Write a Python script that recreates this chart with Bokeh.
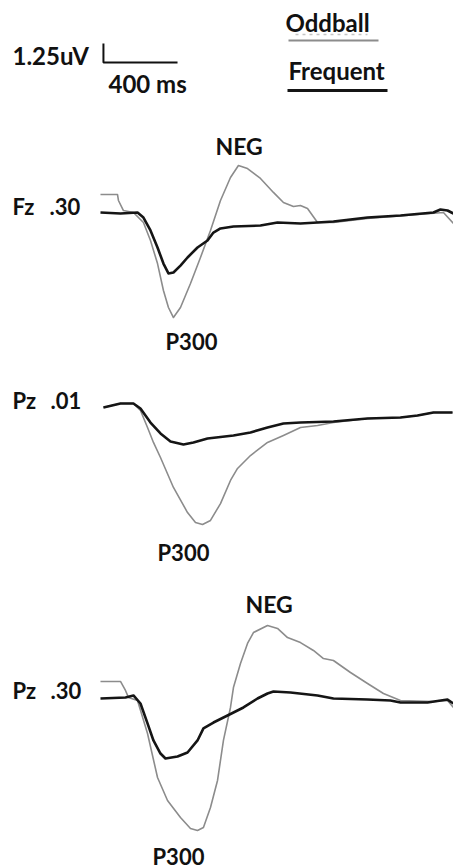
from bokeh.plotting import figure
from bokeh.models import Range1d, ColumnDataSource
from bokeh.core.properties import value
from bokeh.embed import file_html
from bokeh.resources import INLINE

# ---------------- data (time in ms, amplitude in uV, positive plotted downward) ----------------
fz_freq_t = [-100, 8, 100, 132, 170, 208, 240, 267, 294, 332, 370, 424, 478, 510, 548, 618, 764, 856, 980, 1072,
             1158, 1342, 1520, 1698, 1736, 1774, 1806]
fz_freq_v = [0, 0.07, 0, 0.33, 1.18, 2.30, 3.36, 4.01, 3.95, 3.49, 2.96, 2.30, 1.84, 1.32, 1.05, 0.92, 0.86, 0.66,
             0.72, 0.66, 0.59, 0.33, 0.20, 0, -0.20, -0.13, 0.07]

fz_odd_t = [-100, -8, -3, 24, 78, 132, 170, 208, 240, 267, 294, 332, 386, 440, 494, 548, 602, 645, 694, 764, 834,
            888, 942, 980, 1018, 1072, 1158, 1342, 1752, 1806]
fz_odd_v = [-1.18, -1.18, -0.79, -0.13, 0, 0.66, 1.84, 3.36, 5.13, 6.25, 6.91, 6.25, 4.67, 2.96, 1.18, -0.79, -2.30,
            -3.09, -2.89, -2.24, -1.32, -0.66, -0.39, -0.46, -0.26, 0.66, 0.66, 0.39, 0, 0.72]

pz01_freq_t = [-84, 8, 78, 116, 170, 224, 278, 348, 402, 478, 618, 710, 802, 888, 980, 1158, 1342, 1520, 1612, 1698, 1801]
pz01_freq_v = [0, -0.26, -0.26, 0.07, 0.99, 1.71, 2.24, 2.43, 2.30, 2.04, 1.84, 1.64, 1.32, 1.05, 0.99, 0.92, 0.72,
               0.66, 0.53, 0.33, 0.33]

pz01_odd_t = [-84, 8, 78, 116, 154, 186, 224, 294, 370, 413, 451, 494, 548, 602, 640, 710, 802, 888, 980, 1072, 1158,
              1342, 1520, 1612, 1698, 1801]
pz01_odd_v = [0, -0.26, -0.26, 0.20, 1.32, 2.30, 3.29, 5.26, 6.91, 7.57, 7.70, 7.43, 6.32, 4.80, 4.01, 3.16, 2.30,
              1.84, 1.32, 1.18, 0.99, 0.72, 0.66, 0.53, 0.33, 0.33]

pz30_freq_t = [-100, 35, 78, 116, 154, 186, 224, 251, 316, 370, 424, 456, 510, 586, 672, 748, 802, 834, 926, 1072,
               1158, 1342, 1466, 1520, 1666, 1774, 1806]
pz30_freq_v = [0, -0.07, -0.20, 0.33, 1.64, 2.76, 3.62, 3.95, 3.82, 3.55, 2.76, 1.97, 1.58, 1.12, 0.59, 0, -0.33,
               -0.46, -0.39, -0.20, 0, 0.07, 0.13, 0.26, 0.26, 0.07, 0.33]

pz30_odd_t = [-100, 8, 35, 51, 100, 154, 208, 262, 332, 386, 424, 456, 494, 532, 564, 602, 618, 656, 694, 726, 802,
              856, 910, 980, 1050, 1104, 1158, 1250, 1342, 1428, 1520, 1698, 1774, 1806]
pz30_odd_v = [-1.12, -1.12, -0.53, -0.07, 0.13, 2.30, 5.20, 6.71, 7.83, 8.55, 8.68, 8.49, 7.17, 5.39, 2.76, 0.59,
              -0.72, -2.30, -3.62, -4.34, -4.80, -4.61, -4.01, -3.68, -3.16, -2.63, -2.50, -1.71, -0.99, -0.33, 0.13,
              0.20, 0.13, 0.59]

scale_ms = 400
scale_uv = 1.25
scale_t0 = -84

legend_labels = ["Oddball", "Frequent"]
panel_sites = ["Fz", "Pz", "Pz"]
panel_vals = [".30", ".01", ".30"]

# ---------------- layout ----------------
W, H = 453, 868
PX_PER_UV = 15.2
MS_PER_PX = 5.4
T_LEFT = -118.5 * MS_PER_PX

ODD_COLOR = "#8c8c8c"
FREQ_COLOR = "#151515"
FONT = value("Lato")


def uv_range(baseline_px):
    return Range1d(start=(H - baseline_px) / PX_PER_UV, end=-baseline_px / PX_PER_UV)


p = figure(width=W, height=H, output_backend="svg", toolbar_location=None,
           x_range=Range1d(T_LEFT, T_LEFT + W * MS_PER_PX), y_range=Range1d(H, 0),
           min_border=0, min_border_left=0, min_border_right=0, min_border_top=0, min_border_bottom=0)
p.axis.visible = False
p.grid.visible = False
p.outline_line_color = None
p.background_fill_color = "white"
p.border_fill_color = "white"

p.extra_x_ranges = {"px": Range1d(0, W)}
p.extra_y_ranges = {
    "scale": uv_range(62),
    "fz": uv_range(212),
    "pz01": uv_range(407),
    "pz30": uv_range(698),
}

# waveforms
panels = [("fz", fz_odd_t, fz_odd_v, fz_freq_t, fz_freq_v),
          ("pz01", pz01_odd_t, pz01_odd_v, pz01_freq_t, pz01_freq_v),
          ("pz30", pz30_odd_t, pz30_odd_v, pz30_freq_t, pz30_freq_v)]
for name, ot, ov, ft, fv in panels:
    p.line(ot, ov, y_range_name=name, line_color=ODD_COLOR, line_width=1.6, line_join="round")
    p.line(ft, fv, y_range_name=name, line_color=FREQ_COLOR, line_width=2.6, line_join="round")

# scale bar
p.line([scale_t0, scale_t0, scale_t0 + scale_ms], [-scale_uv, 0, 0], y_range_name="scale",
       line_color="#111111", line_width=2)

# legend underlines
p.segment(x0=[295], y0=[34], x1=[367], y1=[34], x_range_name="px", line_color="#c4c4c4", line_width=1.5,
          line_dash="3 4")
p.segment(x0=[288], y0=[40], x1=[378], y1=[40], x_range_name="px", line_color=ODD_COLOR, line_width=2)
p.segment(x0=[287], y0=[90], x1=[387], y1=[90], x_range_name="px", line_color=FREQ_COLOR, line_width=3)

# texts (pixel positions, vertical centre of capitals)
head = ColumnDataSource(dict(
    x=[12, 108, 285, 288],
    y=[54.5, 82.5, 21.5, 70],
    t=["1.25uV", "400 ms", legend_labels[0], legend_labels[1]],
))
p.text(x="x", y="y", text="t", source=head, x_range_name="px", text_font=FONT, text_font_style="bold",
       text_font_size="24px", text_color="#111111", text_baseline="middle", text_align="left")

lab = ColumnDataSource(dict(
    x=[12, 49, 165, 12, 50, 157, 12, 50, 152],
    y=[205.5, 205.5, 340.5, 400, 400, 551.5, 690, 690, 855.5],
    t=[panel_sites[0], panel_vals[0], "P300",
       panel_sites[1], panel_vals[1], "P300",
       panel_sites[2], panel_vals[2], "P300"],
))
p.text(x="x", y="y", text="t", source=lab, x_range_name="px", text_font=FONT, text_font_style="bold",
       text_font_size="22px", text_color="#111111", text_baseline="middle", text_align="left")

neg = ColumnDataSource(dict(x=[215, 245], y=[145, 603.5], t=["NEG", "NEG"]))
p.text(x="x", y="y", text="t", source=neg, x_range_name="px", text_font=FONT, text_font_style="bold",
       text_font_size="23px", text_color="#111111", text_baseline="middle", text_align="left")

open("out.html", "w").write(file_html(p, INLINE))
